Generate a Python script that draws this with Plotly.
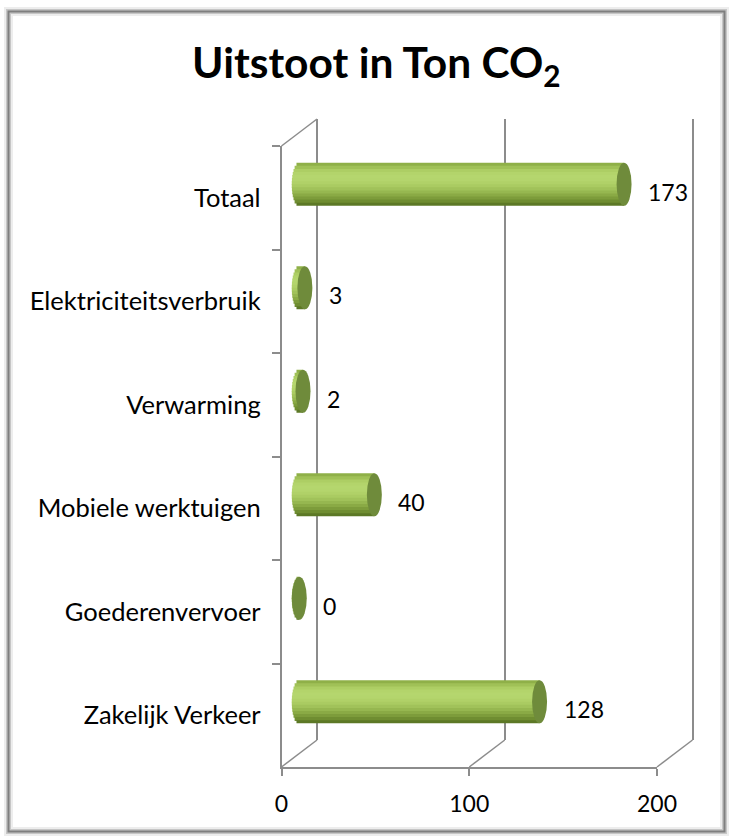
import math
import plotly.graph_objects as go

# ---------------- data ----------------
categories = ["Totaal", "Elektriciteitsverbruik", "Verwarming",
              "Mobiele werktuigen", "Goederenvervoer", "Zakelijk Verkeer"]
values = [173, 3, 2, 40, 0, 128]
x_ticks = [0, 100, 200]
x_tick_labels = ["0", "100", "200"]
title_text = "Uitstoot in Ton CO<sub>2</sub>"

# ---------------- geometry / style ----------------
W, H = 732, 836
FX0, FX1 = 281.5, 657.0      # front plane: pixel span of x range
FY_TOP, FY_BOT = 146.0, 767.0
DX, DY = 35.5, 27.0          # depth offset of the back wall
XMAX = 200
FONT = "Lato"
GRID = "#8c8c8c"
BAR_W = 0.415                # bar thickness (category units)
CAP_PX = 7.5                 # half-width of the cylinder end-caps in px
SCALE = (FX1 - FX0) / XMAX   # px per unit
CAP = CAP_PX / SCALE
PADU = 1.5                   # range padding on back wall so edge gridlines show
PADM = 8.0                   # range padding on bar plane so caps are not clipped

stripe_colors = ["#8fb048", "#a0c157", "#adce64", "#b3d46b", "#b5d66e",
                 "#b4d56d", "#b0d168", "#aacb62", "#a1c25a", "#96b750",
                 "#8aaa45", "#7d9c3b", "#6f8d31", "#5c7826"]
cap_color = "#6f8b3b"


def px_x(p):
    return p / W


def px_y(p):
    return 1 - p / H


front_xdom = [px_x(FX0), px_x(FX1)]
front_ydom = [px_y(FY_BOT), px_y(FY_TOP)]
back_xdom = [px_x(FX0 + DX - PADU * SCALE), px_x(FX1 + DX + PADU * SCALE)]
back_ydom = [px_y(FY_BOT - DY), px_y(FY_TOP - DY)]
mid_xdom = [px_x(FX0 + DX / 2 - PADM * SCALE), px_x(FX1 + DX / 2 + PADM * SCALE)]
mid_ydom = [px_y(FY_BOT - DY / 2), px_y(FY_TOP - DY / 2)]

fig = go.Figure()

# cylinder bodies as horizontal stripes (gradient), rounded left end via base
n = len(stripe_colors)
t = BAR_W / n
for k, col in enumerate(stripe_colors):
    yc = -BAR_W / 2 + (k + 0.5) * t
    u = yc / (BAR_W / 2)
    depth = CAP * math.sqrt(max(0.0, 1 - u * u))
    width = t * (1.25 if k < n - 1 else 1.0)
    fig.add_trace(go.Bar(
        y=categories, x=[v + depth for v in values], base=[-depth] * len(values),
        orientation="h", width=width, offset=-BAR_W / 2 + k * t,
        marker=dict(color=col, line=dict(width=0)),
        xaxis="x3", yaxis="y3", showlegend=False, hoverinfo="skip",
    ))

# invisible traces to activate front and back axes
fig.add_trace(go.Scatter(x=[None], y=[None], xaxis="x", yaxis="y", mode="markers",
                         showlegend=False, hoverinfo="skip"))
fig.add_trace(go.Scatter(x=[None], y=[None], xaxis="x2", yaxis="y2", mode="markers",
                         showlegend=False, hoverinfo="skip"))

shapes = []
# frame with soft shadow
for lw, col in [(9, "#ededed"), (5, "#c6c6c6"), (2, "#7f7f7f")]:
    shapes.append(dict(type="rect", xref="paper", yref="paper",
                       x0=px_x(8.5), x1=px_x(724.5), y0=px_y(831.5), y1=px_y(11.5),
                       line=dict(color=col, width=lw), layer="below"))

# floor diagonals at each tick and left wall top edge
for v in x_ticks:
    fx = FX0 + v * SCALE
    shapes.append(dict(type="line", xref="paper", yref="paper",
                       x0=px_x(fx), y0=px_y(FY_BOT), x1=px_x(fx + DX), y1=px_y(FY_BOT - DY),
                       line=dict(color=GRID, width=1.5), layer="below"))
shapes.append(dict(type="line", xref="paper", yref="paper",
                   x0=px_x(FX0), y0=px_y(FY_TOP), x1=px_x(FX0 + DX), y1=px_y(FY_TOP - DY),
                   line=dict(color=GRID, width=1.5), layer="below"))

# dark end caps
for i, v in enumerate(values):
    shapes.append(dict(type="circle", xref="x3", yref="y3",
                       x0=v - CAP, x1=v + CAP, y0=i - BAR_W / 2, y1=i + BAR_W / 2,
                       fillcolor=cap_color, line=dict(width=0), layer="above"))

annotations = []
for c, v in zip(categories, values):
    annotations.append(dict(x=v, y=c, xref="x3", yref="y3", text=str(v),
                            showarrow=False, xanchor="left", yanchor="middle",
                            xshift=22, yshift=-7.5,
                            font=dict(family=FONT, size=23, color="#000000")))
annotations.append(dict(x=px_x(376), y=px_y(65), xref="paper", yref="paper",
                        text="<b>" + title_text + "</b>", showarrow=False,
                        xanchor="center", yanchor="middle",
                        font=dict(family=FONT, size=42.5, color="#000000")))

fig.update_layout(
    template="none",
    width=W, height=H, autosize=False,
    margin=dict(l=0, r=0, t=0, b=0, pad=0, autoexpand=False),
    font=dict(family=FONT, color="#000000"),
    paper_bgcolor="#ffffff", plot_bgcolor="rgba(0,0,0,0)",
    barmode="overlay", showlegend=False,
    shapes=shapes, annotations=annotations,
    xaxis=dict(domain=front_xdom, range=[0, XMAX], anchor="y", automargin=False,
               tickvals=x_ticks, ticktext=x_tick_labels,
               showline=True, linecolor=GRID, linewidth=1.5,
               ticks="outside", ticklen=7, tickwidth=1.5, tickcolor=GRID,
               showgrid=False, zeroline=False, ticklabelstandoff=9,
               tickfont=dict(family=FONT, size=23, color="#000000")),
    yaxis=dict(domain=front_ydom, anchor="x", type="category", automargin=False,
               categoryorder="array", categoryarray=categories,
               range=[len(categories) - 0.5, -0.5],
               tickson="boundaries", showline=True, linecolor=GRID, linewidth=1.5,
               ticks="outside", ticklen=8, tickwidth=1.5, tickcolor=GRID,
               showgrid=False, zeroline=False, ticklabelstandoff=14,
               tickfont=dict(family=FONT, size=25.5, color="#000000")),
    xaxis2=dict(domain=back_xdom, range=[-PADU, XMAX + PADU], anchor="y2",
                automargin=False, tickvals=x_ticks, showticklabels=False, ticks="",
                showgrid=True, gridcolor=GRID, gridwidth=1.5,
                showline=False, zeroline=False),
    yaxis2=dict(domain=back_ydom, range=[0, 1], anchor="x2", automargin=False,
                showgrid=False, showticklabels=False, showline=False,
                zeroline=False, ticks=""),
    xaxis3=dict(domain=mid_xdom, range=[-PADM, XMAX + PADM], anchor="y3",
                automargin=False, visible=False, showgrid=False, zeroline=False),
    yaxis3=dict(domain=mid_ydom, anchor="x3", type="category", automargin=False,
                categoryorder="array", categoryarray=categories,
                range=[len(categories) - 0.5, -0.5], visible=False,
                showgrid=False, zeroline=False),
)

post = """
document.documentElement.style.margin='0';
document.body.style.margin='0';
document.documentElement.style.overflow='hidden';
document.body.style.overflow='hidden';
"""

fig.write_html(
    "out.html",
    config={"responsive": False, "displayModeBar": False},
    post_script=post,
)
